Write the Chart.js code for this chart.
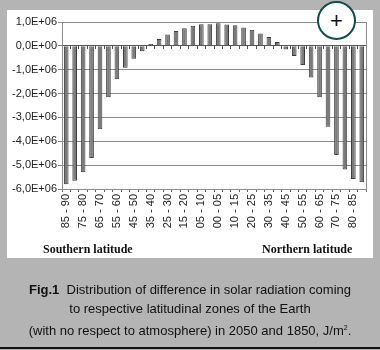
<!DOCTYPE html>
<html>
<head>
<meta charset="utf-8">
<script src="https://cdn.jsdelivr.net/npm/chart.js@4/dist/chart.umd.min.js"></script>
<style>
  html, body { margin: 0; padding: 0; }
  body { width: 380px; height: 350px; background: #b4b4b4; position: relative; overflow: hidden; font-family: "Liberation Sans", Arial, sans-serif; }
  #panel { position: absolute; left: 7px; top: 10px; width: 366px; height: 248px; background: #fff; }
  #chart { position: absolute; left: 0; top: 0; }
  .lat { position: absolute; top: 242px; font: bold 12px "Liberation Serif", "Times New Roman", serif; color: #111; }
  #caption { position: absolute; left: 0; top: 280px; width: 380px; text-align: center; font-size: 13px; line-height: 19px; color: #111; }
  #caption sup { font-size: 7px; }
  #rule { position: absolute; left: 0; top: 347px; width: 380px; height: 2px; background: #111; }
  #zoom { position: absolute; left: 317px; top: 1px; width: 35px; height: 35px; border: 2px solid #0e4f4a; border-radius: 50%; background: #fff; text-align: center; font: 22px/35px "Liberation Sans", Arial, sans-serif; color: #111; }
</style>
</head>
<body>
<div id="panel"></div>
<canvas id="chart" width="380" height="350"></canvas>
<div class="lat" style="left:43px">Southern latitude</div>
<div class="lat" style="left:262px">Northern latitude</div>
<div id="zoom">+</div>
<div id="caption"><b>Fig.1</b>&nbsp; Distribution of difference in solar radiation coming<br>to respective latitudinal zones of the Earth<br>(with no respect to atmosphere) in 2050 and 1850, J/m<sup>2</sup>.</div>
<div id="rule"></div>
<script>
// latitude zones, south pole -> equator -> north pole
const southZones = ["85 - 90", "80 - 85", "75 - 80", "70 - 75", "65 - 70", "60 - 65", "55 - 60", "50 - 55", "45 - 50",
    "40 - 45", "35 - 40", "30 - 35", "25 - 30", "20 - 25", "15 - 20", "10 - 15", "05 - 10", "00 - 05"];
const northZones = ["00 - 05", "05 - 10", "10 - 15", "15 - 20", "20 - 25", "25 - 30", "30 - 35", "35 - 40", "40 - 45",
    "45 - 50", "50 - 55", "55 - 60", "60 - 65", "65 - 70", "70 - 75", "75 - 80", "80 - 85", "85 - 90"];

// difference 2050 - 1850, J/m2
const southValues = [-5.8e6, -5.65e6, -5.3e6, -4.7e6, -3.5e6, -2.15e6, -1.4e6, -0.92e6, -0.54e6,
    -0.23e6, 0.08e6, 0.29e6, 0.48e6, 0.62e6, 0.74e6, 0.84e6, 0.91e6, 0.91e6];
const northValues = [0.95e6, 0.89e6, 0.86e6, 0.77e6, 0.67e6, 0.52e6, 0.37e6, 0.16e6, -0.15e6,
    -0.43e6, -0.8e6, -1.33e6, -2.15e6, -3.39e6, -4.57e6, -5.18e6, -5.58e6, -5.72e6];

const yMin = -6e6;
const yMax = 1e6;
const yStep = 1e6;

const zones = southZones.concat(northZones);
const values = southValues.concat(northValues);

// 1,0E+06 style
const sciLabel = (v) => {
    if (v === 0) return "0,0E+00";
    const e = Math.floor(Math.log10(Math.abs(v)) + 1e-9);
    const m = (v / Math.pow(10, e)).toFixed(1).replace(".", ",");
    return m + "E" + (e < 0 ? "-" : "+") + String(Math.abs(e)).padStart(2, "0");
};

const plotFrame = {
    id: "plotFrame",
    beforeDatasetsDraw(chart) {
        const a = chart.chartArea;
        const ctx = chart.ctx;
        ctx.save();
        ctx.strokeStyle = "#8c8c8c";
        ctx.lineWidth = 1;
        ctx.strokeRect(Math.round(a.left) + 0.5, Math.round(a.top) + 0.5, Math.round(a.right - a.left), Math.round(a.bottom - a.top));
        ctx.restore();
    }
};

new Chart(document.getElementById("chart"), {
    type: "bar",
    data: {
        labels: zones,
        datasets: [{
            data: values,
            backgroundColor: "#7b7b7b",
            borderColor: "#3d3d3d",
            borderWidth: 1,
            barPercentage: 0.55,
            categoryPercentage: 1
        }]
    },
    options: {
        responsive: false,
        animation: false,
        layout: { padding: { left: 0, right: 14, top: 22, bottom: 0 } },
        plugins: { legend: { display: false }, tooltip: { enabled: false } },
        scales: {
            x: {
                type: "category",
                offset: true,
                afterFit: (s) => { s.height = 161; },
                grid: { offset: true, drawOnChartArea: false, drawTicks: true, tickLength: 3, color: "#666" },
                border: { display: true, color: "#8c8c8c" },
                ticks: {
                    autoSkip: false,
                    minRotation: 90,
                    maxRotation: 90,
                    padding: 2,
                    color: "#222",
                    font: { family: "'Liberation Sans', Arial, sans-serif", size: 11 },
                    callback: (v, i) => (i % 2 === 0 ? zones[i] : "")
                }
            },
            x2: {
                type: "category",
                labels: zones,
                position: { y: 0 },
                offset: true,
                afterFit: (s) => { s.height = 0; },
                grid: { offset: true, drawOnChartArea: false, drawTicks: true, tickLength: 3, color: "#555" },
                border: { display: true, color: "#555" },
                ticks: { display: false }
            },
            y: {
                min: yMin,
                max: yMax,
                afterFit: (s) => { s.width = 62; },
                grid: { color: "#8c8c8c", drawTicks: true, tickLength: 4 },
                border: { display: true, color: "#555" },
                ticks: {
                    stepSize: yStep,
                    padding: 1,
                    color: "#222",
                    font: { family: "'Liberation Sans', Arial, sans-serif", size: 11 },
                    callback: (v) => sciLabel(v)
                }
            }
        }
    },
    plugins: [plotFrame]
});
</script>
</body>
</html>
